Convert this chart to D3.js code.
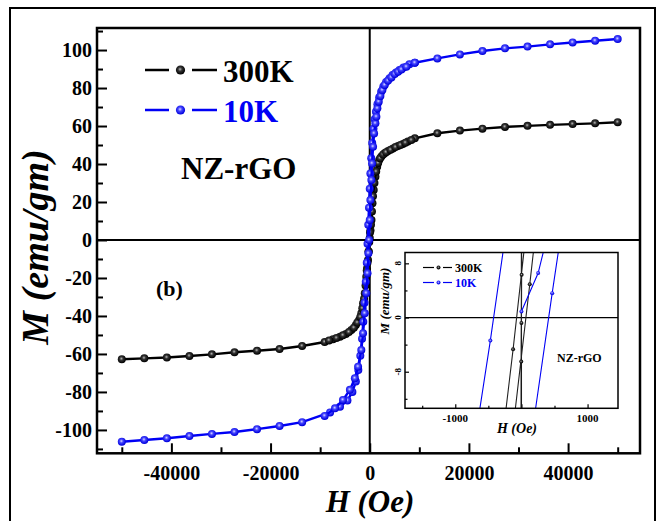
<!DOCTYPE html>
<html>
<head>
<meta charset="utf-8">
<script src="https://cdnjs.cloudflare.com/ajax/libs/d3/7.8.5/d3.min.js"></script>
<style>
  body { margin: 0; background: #fff; }
  text { font-family: "Liberation Serif", "Times New Roman", serif; font-weight: bold; }
</style>
</head>
<body>
<script>
// 300K, field sweep down (full range)
var h300Down = [50000, 45455, 40909, 36364, 31818, 27273, 22727, 18182, 13636, 9091, 7700, 6700, 5700, 4700, 3700, 3000, 2350, 1900, 1500, 1150, 800, 550, 350, 150, 0, -200, -350, -550, -700, -1000, -1350, -1700, -2150, -2800, -3700, -4800, -6000, -7400, -9091, -13636, -18182, -22727, -27273, -31818, -36364, -40909, -45455, -50000];
var m300Down = [62.0, 61.4, 61.0, 60.6, 60.1, 59.5, 58.6, 57.6, 56.2, 53.5, 51.8, 50.5, 49.5, 48.2, 46.8, 45.6, 43.9, 42.1, 38.6, 33.3, 26.3, 19.3, 10.5, 5, 1, -6, -10.5, -15, -19.3, -28, -33.3, -38.6, -42.1, -44.7, -47.4, -49.5, -50.9, -52.3, -53.7, -55.8, -57.4, -58.3, -59.1, -60.2, -61.1, -61.9, -62.3, -62.8];
// 300K, field sweep up (low field part)
var h300Up = [-8200, -6700, -5400, -4200, -3200, -2500, -1900, -1500, -1150, -850, -600, -450, -250, -100, 50, 250, 450, 650, 950, 1300, 1700, 2100, 2700, 3300, 4200, 5200, 6200, 7200, 8400];
var m300Up = [-52.9, -51.6, -50.2, -48.5, -46.2, -43.5, -40.5, -36, -31, -24, -16, -12, -6, -1, 4, 8, 15, 23, 30, 36, 40.5, 43, 45, 46.2, 47.5, 48.9, 50, 51.2, 52.6];

// 10K
var h10Down = [50000, 45455, 40909, 36364, 31818, 27273, 22727, 18182, 13636, 9091, 8000, 6800, 6000, 5300, 4600, 4000, 3300, 2750, 2300, 1900, 1550, 1250, 1000, 750, 500, 300, 130, 0, -150, -300, -450, -600, -800, -1050, -1300, -1550, -1900, -2300, -2800, -3500, -4500, -6000, -8000, -13636, -18182, -22727, -27273, -31818, -36364, -40909, -45455, -50000];
var m10Down = [105.8, 104.9, 104.0, 103.0, 101.8, 100.9, 99.5, 97.7, 95.6, 93.3, 92.5, 90.8, 89.5, 88.2, 86.8, 85.2, 83.2, 80.8, 78.0, 75.0, 71.5, 67.5, 63.5, 58.5, 51, 43, 35, 27, 17, 8, -2, -12, -22, -33, -43, -52, -61, -68.5, -74.5, -80, -84.5, -87.8, -90.8, -95.9, -97.9, -99.6, -101.1, -102.1, -103.2, -104.4, -105.3, -106.2];
var h10Up = [-9091, -7000, -5400, -4000, -3000, -2350, -1700, -1350, -1000, -700, -450, -270, -130, 0, 130, 330, 470, 670, 880, 1140, 1340, 1540, 1810, 2150, 2550, 3020, 3700, 4370, 5040, 5710, 6390, 7390, 9091];
var m10Up = [-92.6, -88.6, -84.2, -78.9, -72.8, -66.7, -57.9, -49.1, -38.6, -28, -17.5, -7, 0, 10.5, 21, 31.6, 40.3, 49.1, 56.1, 61.4, 64.9, 69.3, 72.8, 75.8, 78.9, 81.6, 83.9, 85.6, 87.4, 88.6, 89.8, 91.2, 93.3];

// inset (low field zoom), points outside the box get clipped
var insetH300 = [5, 3, 0, -3, -6, -300, -126, 80, 300, 126, -110, -300];
var insetM300 = [25, 6.3, -0.8, -6.5, -25, -19, -4.7, 13.4, 20, 4.9, -15, -20];
var insetH10 = [0, 253, 500, 1500, 700, 465, 200, -1500, -700, -470, -200, 1500];
var insetM10 = [0.9, 6.56, 16.4, 30, 19, 3.6, -14.4, -30, -18, -3.4, 15, 30];

var xMajor = [-40000, -20000, 0, 20000, 40000];
var xMinor = [-50000, -30000, -10000, 10000, 30000, 50000];
var yMajor = [-100, -80, -60, -40, -20, 0, 20, 40, 60, 80, 100];
var yMinor = [-110, -90, -70, -50, -30, -10, 10, 30, 50, 70, 90, 110];
var insetXMajor = [-1000, 0, 1000];
var insetXLabels = [-1000, 1000];
var insetXMinor = [-1500, -500, 500];
var insetYMajor = [-8, 0, 8];
var insetYMinor = [-12, -4, 4];

var seriesNames = ["300K", "10K"];
var blue = "#0000f5";

var width = 662, height = 521;
var svg = d3.select("body").append("svg")
    .attr("width", width)
    .attr("height", height);

var defs = svg.append("defs");
function ball(id, c0, c1, c2) {
    var g = defs.append("radialGradient").attr("id", id).attr("cx", "45%").attr("cy", "42%").attr("r", "55%");
    g.append("stop").attr("offset", "0%").attr("stop-color", c0);
    g.append("stop").attr("offset", "40%").attr("stop-color", c1);
    g.append("stop").attr("offset", "100%").attr("stop-color", c2);
}
ball("ballBlue", "#d8d8ff", "#4545ff", "#0000dc");
ball("ballBlack", "#b8b8b8", "#333", "#000");

// outer frame
svg.append("rect")
    .attr("x", 10).attr("y", 8)
    .attr("width", 645).attr("height", 540)
    .attr("fill", "none").attr("stroke", "#000").attr("stroke-width", 2);

var x = d3.scaleLinear().domain([-55000, 54500]).range([97, 640]);
var y = d3.scaleLinear().domain([-112.3, 111.6]).range([453.3, 28]);

// axes with inward ticks
var xAxisG = svg.append("g").attr("transform", "translate(0," + y.range()[0] + ")");
xAxisG.call(d3.axisBottom(x).tickValues(xMajor).tickSize(-10).tickSizeOuter(0).tickPadding(13).tickFormat(d => String(d)));
xAxisG.append("g").call(d3.axisBottom(x).tickValues(xMinor).tickSize(-6).tickSizeOuter(0).tickFormat(""));

var yAxisG = svg.append("g").attr("transform", "translate(" + x.range()[0] + ",0)");
yAxisG.call(d3.axisLeft(y).tickValues(yMajor).tickSize(-10).tickSizeOuter(0).tickPadding(5).tickFormat(d => String(d)));
yAxisG.append("g").call(d3.axisLeft(y).tickValues(yMinor).tickSize(-6).tickSizeOuter(0).tickFormat(""));

svg.selectAll(".domain").remove();
svg.selectAll(".tick line").attr("stroke", "#000").attr("stroke-width", 2);
svg.selectAll(".tick text")
    .attr("font-size", 20)
    .attr("fill", "#000")
    .style("font-family", "'Liberation Serif', serif")
    .style("font-weight", "bold");

svg.append("rect")
    .attr("x", x.range()[0]).attr("y", y.range()[1])
    .attr("width", x.range()[1] - x.range()[0])
    .attr("height", y.range()[0] - y.range()[1])
    .attr("fill", "none").attr("stroke", "#000").attr("stroke-width", 2.5);

// zero lines
svg.append("line")
    .attr("x1", x(0)).attr("x2", x(0))
    .attr("y1", y.range()[1]).attr("y2", y.range()[0])
    .attr("stroke", "#000").attr("stroke-width", 2);
svg.append("line")
    .attr("x1", x.range()[0]).attr("x2", x.range()[1])
    .attr("y1", y(0)).attr("y2", y(0))
    .attr("stroke", "#000").attr("stroke-width", 2);

function toPts(hs, ms) {
    return hs.map((h, i) => ({h: h, m: ms[i]}));
}

function drawSeries(g, pts, sx, sy, color, grad, lw, r) {
    var line = d3.line().x(d => sx(d.h)).y(d => sy(d.m));
    g.append("path")
        .datum(pts)
        .attr("d", line)
        .attr("fill", "none")
        .attr("stroke", color)
        .attr("stroke-width", lw);
    g.append("g")
        .selectAll("circle")
        .data(pts)
        .enter()
        .append("circle")
        .attr("cx", d => sx(d.h))
        .attr("cy", d => sy(d.m))
        .attr("r", r)
        .attr("fill", "url(#" + grad + ")");
}

var curves = svg.append("g");
drawSeries(curves, toPts(h300Down, m300Down), x, y, "#000", "ballBlack", 2.4, 4);
drawSeries(curves, toPts(h300Up, m300Up), x, y, "#000", "ballBlack", 2.4, 4);
drawSeries(curves, toPts(h10Down, m10Down), x, y, blue, "ballBlue", 2.4, 4);
drawSeries(curves, toPts(h10Up, m10Up), x, y, blue, "ballBlue", 2.4, 4);

// legend
var legend = svg.append("g");
[{name: seriesNames[0], color: "#000", grad: "ballBlack", yy: 70},
 {name: seriesNames[1], color: blue, grad: "ballBlue", yy: 110}].forEach(function(s) {
    legend.append("line").attr("x1", 145).attr("x2", 169).attr("y1", s.yy).attr("y2", s.yy)
        .attr("stroke", s.color).attr("stroke-width", 2.5);
    legend.append("line").attr("x1", 192).attr("x2", 217).attr("y1", s.yy).attr("y2", s.yy)
        .attr("stroke", s.color).attr("stroke-width", 2.5);
    legend.append("circle").attr("cx", 180.5).attr("cy", s.yy).attr("r", 4.6)
        .attr("fill", "url(#" + s.grad + ")");
    legend.append("text").attr("x", 223).attr("y", s.yy + 11.5)
        .attr("font-size", 31).attr("fill", s.color).text(s.name);
});

svg.append("text").attr("x", 181).attr("y", 179).attr("font-size", 31).text("NZ-rGO");
svg.append("text").attr("x", 156).attr("y", 296).attr("font-size", 22).text("(b)");

svg.append("text")
    .attr("x", 370).attr("y", 512)
    .attr("text-anchor", "middle")
    .attr("font-size", 31)
    .style("font-style", "italic")
    .text("H (Oe)");
svg.append("text")
    .attr("transform", "translate(48,247) rotate(-90)")
    .attr("text-anchor", "middle")
    .attr("font-size", 38)
    .style("font-style", "italic")
    .text("M (emu/gm)");

// inset
var ix = d3.scaleLinear().domain([-1760, 1460]).range([405, 618]);
var iy = d3.scaleLinear().domain([-13.4, 9.6]).range([408.3, 252.5]);
var inset = svg.append("g");

inset.append("rect")
    .attr("x", ix.range()[0]).attr("y", iy.range()[1])
    .attr("width", ix.range()[1] - ix.range()[0])
    .attr("height", iy.range()[0] - iy.range()[1])
    .attr("fill", "#fff");

defs.append("clipPath").attr("id", "insetClip")
    .append("rect")
    .attr("x", ix.range()[0]).attr("y", iy.range()[1])
    .attr("width", ix.range()[1] - ix.range()[0])
    .attr("height", iy.range()[0] - iy.range()[1]);

var ixAxis = inset.append("g").attr("transform", "translate(0," + iy.range()[0] + ")");
ixAxis.call(d3.axisBottom(ix).tickValues(insetXMajor).tickSize(-4).tickSizeOuter(0).tickFormat(""));
ixAxis.append("g").call(d3.axisBottom(ix).tickValues(insetXMinor).tickSize(-2.5).tickSizeOuter(0).tickFormat(""));
var iyAxis = inset.append("g").attr("transform", "translate(" + ix.range()[0] + ",0)");
iyAxis.call(d3.axisLeft(iy).tickValues(insetYMajor).tickSize(-4).tickSizeOuter(0).tickFormat(""));
iyAxis.append("g").call(d3.axisLeft(iy).tickValues(insetYMinor).tickSize(-2.5).tickSizeOuter(0).tickFormat(""));
inset.selectAll(".domain").remove();
inset.selectAll(".tick line").attr("stroke", "#000").attr("stroke-width", 1.2);

inset.selectAll("text.ixl")
    .data(insetXLabels)
    .enter()
    .append("text")
    .attr("class", "ixl")
    .attr("x", d => ix(d))
    .attr("y", iy.range()[0] + 13.5)
    .attr("text-anchor", "middle")
    .attr("font-size", 11)
    .text(d => String(d));

inset.selectAll("text.iyl")
    .data(insetYMajor)
    .enter()
    .append("text")
    .attr("class", "iyl")
    .attr("transform", d => "translate(" + (ix.range()[0] - 4) + "," + iy(d) + ") rotate(-90)")
    .attr("text-anchor", "middle")
    .attr("font-size", 9)
    .text(d => String(d));

var insetPlot = inset.append("g").attr("clip-path", "url(#insetClip)");
insetPlot.append("line")
    .attr("x1", ix.range()[0]).attr("x2", ix.range()[1])
    .attr("y1", iy(0)).attr("y2", iy(0))
    .attr("stroke", "#000").attr("stroke-width", 1.2);
insetPlot.append("line")
    .attr("x1", ix(0)).attr("x2", ix(0))
    .attr("y1", iy.range()[1]).attr("y2", iy.range()[0])
    .attr("stroke", "#000").attr("stroke-width", 1.2);
drawSeries(insetPlot, toPts(insetH300, insetM300), ix, iy, "#222", "ballBlack", 1.1, 2);
drawSeries(insetPlot, toPts(insetH10, insetM10), ix, iy, blue, "ballBlue", 1.1, 2);

inset.append("rect")
    .attr("x", ix.range()[0]).attr("y", iy.range()[1])
    .attr("width", ix.range()[1] - ix.range()[0])
    .attr("height", iy.range()[0] - iy.range()[1])
    .attr("fill", "none").attr("stroke", "#000").attr("stroke-width", 1.5);

[{name: seriesNames[0], color: "#000", grad: "ballBlack", yy: 267.5},
 {name: seriesNames[1], color: blue, grad: "ballBlue", yy: 282.5}].forEach(function(s) {
    inset.append("line").attr("x1", 423).attr("x2", 434).attr("y1", s.yy).attr("y2", s.yy)
        .attr("stroke", s.color).attr("stroke-width", 1.2);
    inset.append("line").attr("x1", 443).attr("x2", 452).attr("y1", s.yy).attr("y2", s.yy)
        .attr("stroke", s.color).attr("stroke-width", 1.2);
    inset.append("circle").attr("cx", 438.5).attr("cy", s.yy).attr("r", 2)
        .attr("fill", "url(#" + s.grad + ")");
    inset.append("text").attr("x", 455).attr("y", s.yy + 4.3)
        .attr("font-size", 12).attr("fill", s.color).text(s.name);
});

inset.append("text").attr("x", 557).attr("y", 361.5).attr("font-size", 12).text("NZ-rGO");
inset.append("text")
    .attr("x", 517).attr("y", 433)
    .attr("text-anchor", "middle")
    .attr("font-size", 14)
    .style("font-style", "italic")
    .text("H (Oe)");
inset.append("text")
    .attr("transform", "translate(389,301) rotate(-90)")
    .attr("text-anchor", "middle")
    .attr("font-size", 13)
    .style("font-style", "italic")
    .text("M (emu/gm)");
</script>
</body>
</html>
